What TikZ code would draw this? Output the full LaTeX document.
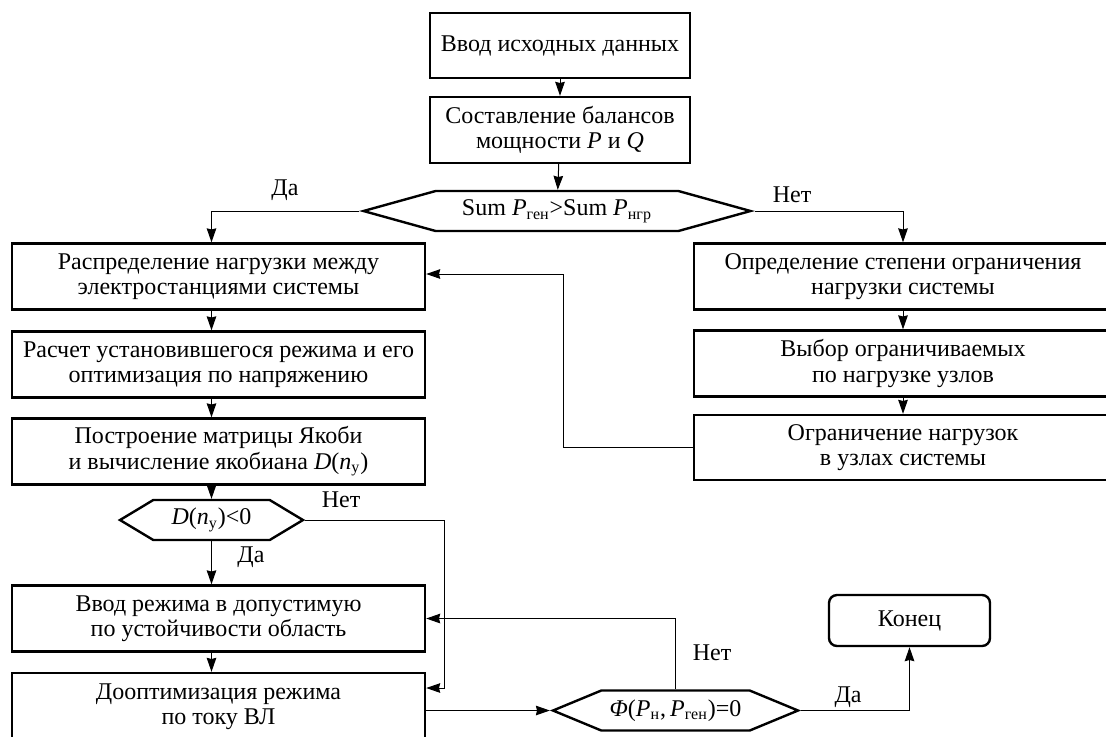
\documentclass[tikz,border=0pt]{standalone}
\usepackage{fontspec}
\setmainfont{Liberation Serif}
\usetikzlibrary{arrows.meta,shapes.symbols}
\begin{document}
\begin{tikzpicture}[x=0.5pt,y=-0.5pt,
    font=\fontsize{12pt}{12.6pt}\selectfont,
    every node/.style={align=center,inner sep=0pt},
    box/.style={rectangle,draw,line width=1.2pt,minimum height=33pt},
    choice/.style={signal,signal to=east and west,draw,line width=1.2pt,minimum height=20pt},
    link/.style={line width=0.5pt,-{Stealth[length=7pt,width=4.8pt,inset=0.6pt]}},
    line/.style={line width=0.5pt}]
    \useasboundingbox (0,0) rectangle (1106,736);

    % top
    \node[box, minimum width=130pt, minimum height=32.5pt] (A) at (560,45.5) {Ввод исходных данных};
    \node[box, minimum width=130pt] (B) at (560,130) {Составление балансов\\мощности \textit{P} и \textit{Q}};
    \node[choice, minimum width=193.5pt, signal pointer angle=31] (C) at (557,211)
        {Sum \textit{P}\textsubscript{ген}>Sum \textit{P}\textsubscript{нгр}};

    % left column
    \node[box, minimum width=206.5pt] (D) at (218.5,276.5) {Распределение нагрузки между\\электростанциями системы};
    \node[box, minimum width=206.5pt] (E) at (218.5,364.5) {Расчет установившегося режима и его\\оптимизация по напряжению};
    \node[box, minimum width=206.5pt] (F) at (218.5,451.5) {Построение матрицы Якоби\\и вычисление якобиана \textit{D}(\textit{n}\textsubscript{у})};
    \node[choice, minimum width=91.5pt, signal pointer angle=62] (G) at (211.5,520) {\textit{D}(\textit{n}\textsubscript{у})<0};
    \node[box, minimum width=206.5pt] (H) at (218.5,618.5) {Ввод режима в допустимую\\по устойчивости область};
    \node[box, minimum width=206.5pt, minimum height=34pt] (I) at (218.5,707) {Дооптимизация режима\\по току ВЛ};

    % right column
    \node[box, minimum width=209pt] (R1) at (903,276.5) {Определение степени ограничения\\нагрузки системы};
    \node[box, minimum width=209pt] (R2) at (903,363.5) {Выбор ограничиваемых\\по нагрузке узлов};
    \node[box, minimum width=209pt, minimum height=32.5pt] (R3) at (903,447.5) {Ограничение нагрузок\\в узлах системы};

    % bottom
    \node[choice, minimum width=122.5pt, signal pointer angle=45] (K) at (675.5,710.5)
        {\textit{Φ}(\textit{P}\textsubscript{н},\,\textit{P}\textsubscript{ген})=0};
    \node[box, rounded corners=4pt, minimum width=80.5pt, minimum height=25.5pt] (L) at (909.5,620.5) {Конец};

    \coordinate (gx) at (444,688);
    \coordinate (fb) at (563,274);

    \draw[link] (A) -- (B);
    \draw[link] (B) -- (C);
    \draw[link] (C.west) -| (G |- D.north);
    \draw[link] (C.east) -| (R1.north);
    \draw[link] (D.south -| G) -- (E.north -| G);
    \draw[link] (E.south -| G) -- (F.north -| G);
    \draw[link] (F.south -| G) -- (G.north);
    \draw[link] (G.south) -- (H.north -| G);
    \draw[link] (H.south -| G) -- (I.north -| G);
    \draw[link] (G.east) -| (gx) -- (gx -| I.east);
    \draw[link] (K.north) |- (H.east);
    \draw[link] (K.west -| I.east) -- (K.west);
    \draw[link] (K.east) -| (L.south);
    \draw[link] (R1) -- (R2);
    \draw[link] (R2) -- (R3);
    \draw[link] (R3.west) -| (fb) -- (fb -| D.east);

    \node (da1) at (285,190) {Да};
    \node (net1) at (792,195) {Нет};
    \node (net2) at (341,500) {Нет};
    \node (da2) at (251,557) {Да};
    \node (net3) at (712,653) {Нет};
    \node (da3) at (848,697) {Да};
\end{tikzpicture}
\end{document}
